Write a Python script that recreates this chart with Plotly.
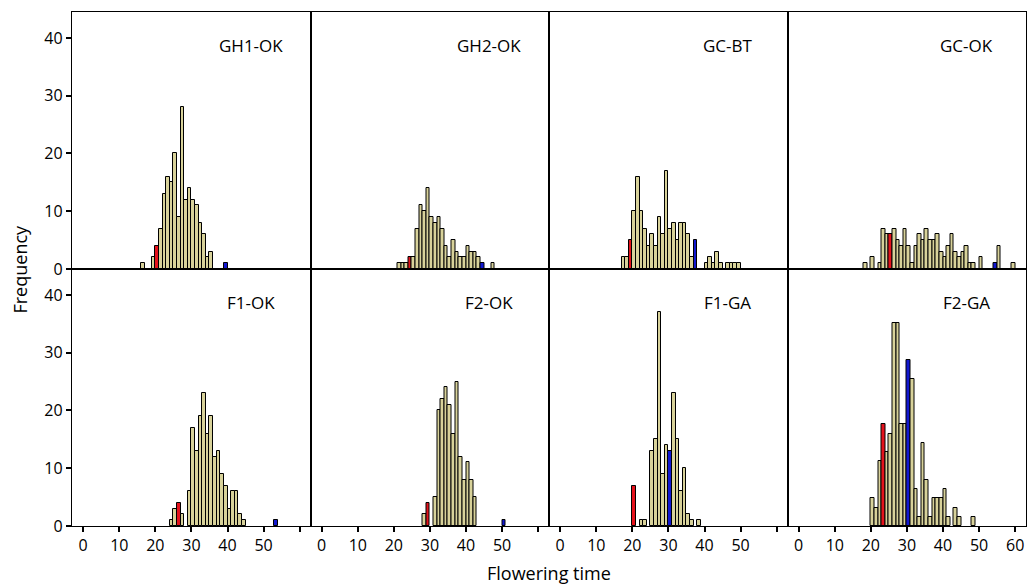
import plotly.graph_objects as go
from plotly.subplots import make_subplots

# Flowering-time histograms: counts per one-day bin, first bin at *_START.
# *_RED / *_BLUE are the days holding the two parental bars.
GH1_OK_START = 16
GH1_OK = [1, 0, 0, 2, 4, 7, 13, 16, 15, 20, 9, 28, 12, 14, 12, 11, 8, 6, 2, 3,
          0, 0, 0, 1]
GH1_OK_RED, GH1_OK_BLUE = 20, 39

GH2_OK_START = 21
GH2_OK = [1, 1, 1, 2, 2, 7, 11, 10, 14, 9, 8, 9, 7, 4, 2, 5, 3, 2, 2, 4,
          3, 3, 2, 1, 0, 0, 1]
GH2_OK_RED, GH2_OK_BLUE = 24, 44

GC_BT_START = 17
GC_BT = [2, 2, 5, 10, 16, 10, 7, 4, 6, 4, 9, 6, 17, 7, 8, 5, 8, 8, 6, 2,
         5, 0, 0, 1, 2, 1, 3, 1, 0, 1, 1, 1, 1]
GC_BT_RED, GC_BT_BLUE = 19, 37

GC_OK_START = 18
GC_OK = [1, 0, 2, 0, 1, 7, 6, 6, 7, 5, 4, 7, 4, 1, 4, 6, 5, 7, 5, 5,
         6, 3, 2, 4, 6, 3, 2, 3, 4, 1, 1, 0, 2, 0, 0, 0, 1, 4, 0, 0,
         0, 1]
GC_OK_RED, GC_OK_BLUE = 25, 54

F1_OK_START = 24
F1_OK = [1, 3, 4, 2, 0, 6, 17, 13, 19, 23, 16, 19, 12, 13, 9, 7, 3, 6, 6, 2,
         1, 0, 0, 0, 0, 0, 0, 0, 0, 1]
F1_OK_RED, F1_OK_BLUE = 26, 53

F2_OK_START = 28
F2_OK = [2, 4, 0, 5, 20, 22, 24, 21, 16, 25, 12, 8, 11, 8, 5, 0, 0, 0, 0, 0,
         0, 0, 1]
F2_OK_RED, F2_OK_BLUE = 29, 50

F1_GA_START = 20
F1_GA = [7, 0, 1, 1, 0, 13, 15, 37, 9, 14, 13, 23, 15, 6, 10, 2, 1, 0, 1]
F1_GA_RED, F1_GA_BLUE = 20, 30

F2_GA_START = 20
F2_GA = [4.8, 3.2, 11.2, 17.6, 12.8, 16.0, 35.1, 35.1, 17.6, 17.6, 28.7, 25.5,
         6.4, 1.6, 14.4, 8.0, 1.6, 4.8, 4.8, 4.8, 6.4, 1.6, 0, 3.2, 1.6, 0,
         0, 0, 1.6]
F2_GA_RED, F2_GA_BLUE = 23, 30

PANEL_TITLES = ["GH1-OK", "GH2-OK", "GC-BT", "GC-OK",
                "F1-OK", "F2-OK", "F1-GA", "F2-GA"]
PANELS = [
    (GH1_OK_START, GH1_OK, GH1_OK_RED, GH1_OK_BLUE),
    (GH2_OK_START, GH2_OK, GH2_OK_RED, GH2_OK_BLUE),
    (GC_BT_START, GC_BT, GC_BT_RED, GC_BT_BLUE),
    (GC_OK_START, GC_OK, GC_OK_RED, GC_OK_BLUE),
    (F1_OK_START, F1_OK, F1_OK_RED, F1_OK_BLUE),
    (F2_OK_START, F2_OK, F2_OK_RED, F2_OK_BLUE),
    (F1_GA_START, F1_GA, F1_GA_RED, F1_GA_BLUE),
    (F2_GA_START, F2_GA, F2_GA_RED, F2_GA_BLUE),
]

X_TICKS = [0, 10, 20, 30, 40, 50, 60]
Y_TICKS = [0, 10, 20, 30, 40]
X_RANGE = [-3.1, 63.0]
Y_RANGE = [0, 44.5]

FILL = "#d8d29a"
RED = "#e5121c"
BLUE = "#1218d0"
FONT = "Open Sans"
AXIS_W = 1.4

fig = make_subplots(rows=2, cols=4, horizontal_spacing=0, vertical_spacing=0)

for i, (start, counts, red_day, blue_day) in enumerate(PANELS):
    row, col = i // 4 + 1, i % 4 + 1
    # empty days get no bar at all
    days = [start + k for k, c in enumerate(counts) if c > 0]
    vals = [c for c in counts if c > 0]
    colors = [RED if d == red_day else BLUE if d == blue_day else FILL
              for d in days]
    fig.add_trace(
        go.Bar(
            x=[d + 0.5 for d in days],
            y=vals,
            width=1,
            marker=dict(color=colors, line=dict(color="black", width=1)),
            showlegend=False,
            hoverinfo="x+y",
        ),
        row=row, col=col,
    )
    idx = "" if i == 0 else str(i + 1)
    fig.add_annotation(
        text=PANEL_TITLES[i], xref=f"x{idx} domain", yref=f"y{idx} domain",
        x=0.75, y=0.87, xanchor="center", yanchor="middle", showarrow=False,
        font=dict(family=FONT, size=17, color="black"),
    )

    xaxis = dict(range=X_RANGE, showline=True, mirror=True, linecolor="black",
                 linewidth=AXIS_W, showgrid=False, zeroline=False)
    if row == 2:
        labels = [str(v) for v in X_TICKS]
        if col < 4:
            labels[-1] = ""
        xaxis.update(tickmode="array", tickvals=X_TICKS, ticktext=labels,
                     ticks="outside", ticklen=5, tickwidth=1.5,
                     tickcolor="black",
                     tickfont=dict(family=FONT, size=16, color="black"))
    else:
        xaxis.update(showticklabels=False, ticks="")
    fig.update_xaxes(row=row, col=col, **xaxis)

    yaxis = dict(range=Y_RANGE, showline=True, mirror=True, linecolor="black",
                 linewidth=AXIS_W, showgrid=False, zeroline=False)
    if col == 1:
        yaxis.update(tickmode="array", tickvals=Y_TICKS, ticks="outside",
                     ticklen=5, tickwidth=1.5, tickcolor="black",
                     tickfont=dict(family=FONT, size=16, color="black"))
    else:
        yaxis.update(showticklabels=False, ticks="")
    fig.update_yaxes(row=row, col=col, **yaxis)

fig.add_annotation(text="Frequency", xref="paper", yref="paper", x=-0.055,
                   y=0.5, textangle=-90, showarrow=False, xanchor="center",
                   yanchor="middle",
                   font=dict(family=FONT, size=18, color="black"))
fig.add_annotation(text="Flowering time", xref="paper", yref="paper", x=0.5,
                   y=-0.092, showarrow=False, xanchor="center",
                   yanchor="middle",
                   font=dict(family=FONT, size=18, color="black"))

fig.update_layout(
    width=1032, height=585,
    margin=dict(l=72, r=6, t=12, b=59),
    paper_bgcolor="white", plot_bgcolor="white",
    bargap=0,
)

fig.write_html("out.html")
